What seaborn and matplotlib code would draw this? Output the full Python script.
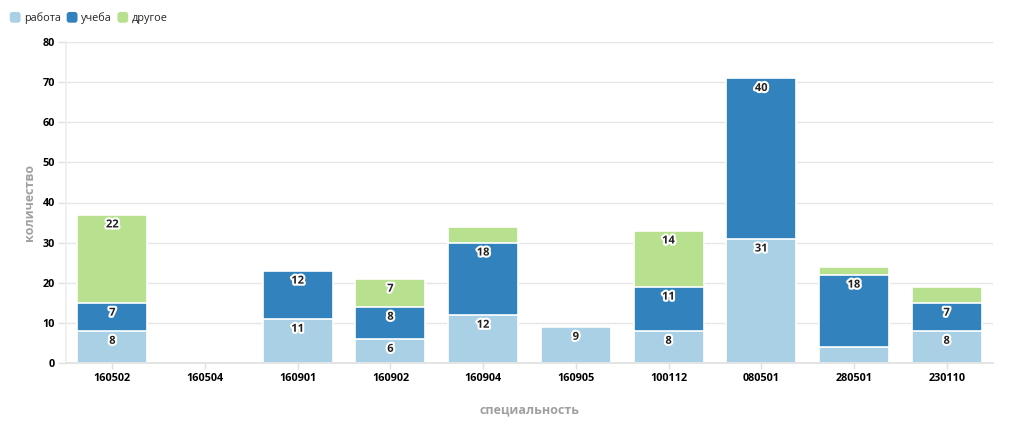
import matplotlib
matplotlib.use("Agg")
import matplotlib.pyplot as plt
import matplotlib.patheffects as pe
from matplotlib.patches import FancyBboxPatch, Patch
from matplotlib.legend_handler import HandlerPatch
import seaborn as sns
import pandas as pd
import numpy as np

categories = ["160502", "160504", "160901", "160902", "160904",
              "160905", "100112", "080501", "280501", "230110"]
rabota = [8, 0, 11, 6, 12, 9, 8, 31, 4, 8]
ucheba = [7, 0, 12, 8, 18, 0, 11, 40, 18, 7]
drugoe = [22, 0, 0, 7, 4, 0, 14, 0, 2, 4]
series_names = ["работа", "учеба", "другое"]
colors = ["#a9d0e5", "#3282bd", "#b8e18f"]

sns.set_theme(style="white")
plt.rcParams["font.family"] = ["Open Sans", "DejaVu Sans"]

fig = plt.figure(figsize=(10.24, 4.41), dpi=100)
ax = fig.add_axes([66 / 1024, 78 / 441, 927 / 1024, 321 / 441])

df = pd.DataFrame({"cat": categories, "r": rabota, "u": ucheba, "d": drugoe})
df["ru"] = df["r"] + df["u"]
df["rud"] = df["ru"] + df["d"]

width = 0.755
for col, c in [("rud", colors[2]), ("ru", colors[1]), ("r", colors[0])]:
    sns.barplot(data=df, x="cat", y=col, order=categories, color=c,
                saturation=1, width=width, edgecolor="white", linewidth=1.2,
                ax=ax, errorbar=None)

# value labels
for i in range(len(categories)):
    bottoms = [0, rabota[i], rabota[i] + ucheba[i]]
    vals = [rabota[i], ucheba[i], drugoe[i]]
    for b, v in zip(bottoms, vals):
        if v >= 5:
            ax.annotate(str(v), xy=(i, b + v), xytext=(0, -7.5),
                        textcoords="offset points", ha="center", va="center",
                        fontsize=8, fontweight="bold", color="#222222",
                        path_effects=[pe.withStroke(linewidth=3, foreground="white")])

ax.set_ylim(0, 80)
ax.set_xlim(-0.5, len(categories) - 0.5)
ax.set_yticks(range(0, 81, 10))
ax.yaxis.grid(True, color="#e6e6e6", linewidth=1)
ax.set_axisbelow(True)
for s in ["top", "right"]:
    ax.spines[s].set_visible(False)
ax.spines["left"].set_color("#eeeeee")
ax.spines["bottom"].set_color("#e0e0e0")
ax.tick_params(axis="y", length=6, color="#e0e0e0", width=1, pad=2,
               labelsize=7.8, labelcolor="black", left=True)
ax.tick_params(axis="x", length=4, color="#e0e0e0", width=1, pad=3,
               labelsize=7.8, labelcolor="black", bottom=True)
for lab in ax.get_xticklabels() + ax.get_yticklabels():
    lab.set_fontweight("bold")

ax.set_xlabel("специальность", fontsize=9, fontweight="bold", color="#a0a0a0",
              labelpad=14)
ax.set_ylabel("количество", fontsize=9, fontweight="bold", color="#a0a0a0",
              labelpad=5)


class RoundHandler(HandlerPatch):
    def create_artists(self, legend, orig_handle, xdescent, ydescent,
                       width, height, fontsize, trans):
        p = FancyBboxPatch((-xdescent, -ydescent), width, height,
                           boxstyle="round,pad=0,rounding_size=2",
                           facecolor=orig_handle.get_facecolor(),
                           edgecolor="none", transform=trans)
        return [p]


handles = [Patch(facecolor=c, edgecolor="none", label=n) for c, n in zip(colors, series_names)]
fig.legend(handles=handles, loc="upper left", bbox_to_anchor=(0.0, 0.995),
           ncol=3, frameon=False, fontsize=7.8, handlelength=1.0,
           handleheight=1.15, handletextpad=0.35, columnspacing=0.5,
           borderaxespad=0.5,
           handler_map={Patch: RoundHandler()})

fig.savefig("out.png", dpi=100)
